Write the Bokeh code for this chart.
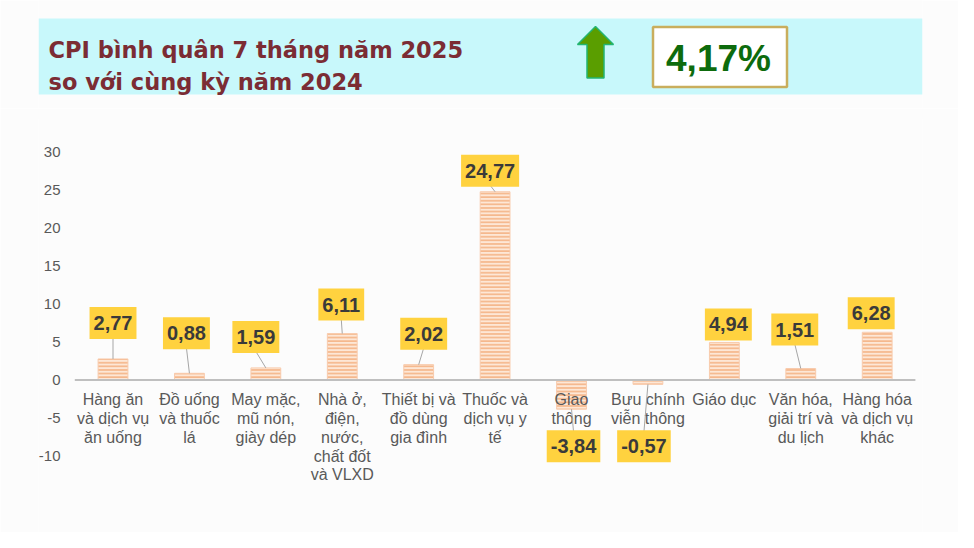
from bokeh.plotting import figure
from bokeh.layouts import column
from bokeh.models import Range1d, FixedTicker, ColumnDataSource
from bokeh.core.properties import value
from bokeh.embed import file_html
from bokeh.resources import INLINE

# ---------------- data ----------------
TITLE_LINES = ["CPI bình quân 7 tháng năm 2025", "so với cùng kỳ năm 2024"]
HEADLINE_VALUE = 4.17
CATEGORIES = [
    "Hàng ăn\nvà dịch vụ\năn uống",
    "Đồ uống\nvà thuốc\nlá",
    "May mặc,\nmũ nón,\ngiày dép",
    "Nhà ở,\nđiện,\nnước,\nchất đốt\nvà VLXD",
    "Thiết bị và\nđồ dùng\ngia đình",
    "Thuốc và\ndịch vụ y\ntế",
    "Giao\nthông",
    "Bưu chính\nviễn thông",
    "Giáo dục",
    "Văn hóa,\ngiải trí và\ndu lịch",
    "Hàng hóa\nvà dịch vụ\nkhác",
]
VALUES = [2.77, 0.88, 1.59, 6.11, 2.02, 24.77, -3.84, -0.57, 4.94, 1.51, 6.28]
Y_TICKS = [-10, -5, 0, 5, 10, 15, 20, 25, 30]

# label placement (screen px offsets of label centre from bar end)
LABEL_DX = [0, -3, -10, -1, 5, -5, 2, -4, 4, -6, -6]
LABEL_DY = [-36, -40, -31, -29, -31, -21, 37, 62, -18, -39, -19]

# ---------------- style / layout (pixels) ----------------
BG = "#FCFCFC"
FONT = "Liberation Sans"
W = 958
HEADER_H = 108
CHART_H = 424
FRAME_L, FRAME_R = 38, 922          # shared frame (header box edges)
CAT_L, CAT_R = 74.3, 914.9          # extent of the category bands
ZERO_PX, TOP_PX, PX_PER_UNIT = 379.5, 118, 7.6

# ---------------- header ----------------
h = figure(width=W, height=HEADER_H, output_backend="svg", toolbar_location=None,
           x_range=Range1d(FRAME_L, FRAME_R), y_range=Range1d(HEADER_H, 0),
           x_axis_location=None, y_axis_location=None,
           min_border_left=FRAME_L, min_border_right=W - FRAME_R,
           min_border_top=0, min_border_bottom=0,
           background_fill_color=BG, border_fill_color=BG, outline_line_color=None)
h.grid.visible = False
h.quad(left=[FRAME_L], right=[FRAME_R], top=[18], bottom=[94],
       fill_color="#C8F8FB", line_color=None)
h.text(x=[48, 48], y=[49, 81], text=TITLE_LINES, text_font=value("DejaVu Sans"),
       text_font_style="bold", text_font_size="22.5px", text_color="#7B2C34",
       text_baseline="alphabetic", text_align="left")
# up arrow
h.patch(x=[595, 613, 603.5, 603.5, 586.5, 586.5, 577],
        y=[26, 44, 44, 77.5, 77.5, 44, 44],
        fill_color="#5A9E00", line_color="#22B573", line_width=1.5)
h.quad(left=[652.5], right=[786.5], top=[26.5], bottom=[86.5], fill_color="white",
       line_color="#C9AE5D", line_width=2.5)
h.text(x=[718], y=[58], text=[f"{HEADLINE_VALUE:.2f}".replace(".", ",") + "%"],
       text_font=value(FONT), text_font_style="bold", text_font_size="37px",
       text_color="#0D6B0D", text_baseline="middle", text_align="center")

# ---------------- chart ----------------
n = len(CATEGORIES)
idx = list(range(n))
pxc = (CAT_R - CAT_L) / n
x0 = -0.5 - (CAT_L - FRAME_L) / pxc
x1 = n - 0.5 + (FRAME_R - CAT_R) / pxc
frame_top_img = TOP_PX
frame_bot_img = HEADER_H + CHART_H
y1 = (ZERO_PX - frame_top_img) / PX_PER_UNIT
y0 = -(frame_bot_img - ZERO_PX) / PX_PER_UNIT

p = figure(width=W, height=CHART_H, output_backend="svg", toolbar_location=None,
           x_range=Range1d(x0, x1), y_range=Range1d(y0, y1),
           x_axis_location=None,
           min_border_left=FRAME_L, min_border_right=W - FRAME_R,
           min_border_top=TOP_PX - HEADER_H, min_border_bottom=0,
           background_fill_color=BG, border_fill_color=BG, outline_line_color=None)
p.grid.visible = False
yax = p.yaxis[0]
yax.ticker = FixedTicker(ticks=Y_TICKS)
yax.major_label_overrides = {t: str(t) for t in Y_TICKS}
yax.axis_line_color = None
yax.major_tick_line_color = None
yax.minor_tick_line_color = None
yax.major_tick_out = 0
yax.major_tick_in = 0
yax.major_label_text_font = FONT
yax.major_label_text_font_size = "15px"
yax.major_label_text_color = "#595959"
yax.major_label_standoff = -22

src = ColumnDataSource(dict(x=idx, top=VALUES))
p.vbar(x="x", top="top", bottom=0, width=0.39, source=src,
       fill_color="#FDE7D6", line_color="#F8CBAD", line_width=1,
       hatch_pattern="horizontal_line", hatch_color="#F5B88D",
       hatch_scale=3.6, hatch_weight=1.8)

# zero baseline across the category area
p.segment(x0=[-0.5], y0=[0], x1=[n - 0.5], y1=[0], line_color="#BFBFBF", line_width=2)

# category labels below zero line
p.text(x=idx, y=[0] * n, text=CATEGORIES, y_offset=11, text_align="center",
       text_baseline="top", text_font=value(FONT), text_font_size="16px",
       text_line_height=1.11, text_color="#595959")

# leader lines
half_box = 14.5
lx0, ly0, lx1, ly1 = [], [], [], []
for i, v in enumerate(VALUES):
    dx, dy = LABEL_DX[i], LABEL_DY[i]
    if abs(dy) - half_box > 5.5:
        edge = dy + half_box if v >= 0 else dy - half_box
        lx0.append(i)
        ly0.append(v)
        lx1.append(i + dx / pxc)
        ly1.append(v - edge / PX_PER_UNIT)
p.segment(x0=lx0, y0=ly0, x1=lx1, y1=ly1, line_color="#A6A6A6", line_width=1)

# data labels
labels = [f"{v:.2f}".replace(".", ",") for v in VALUES]
p.text(x=idx, y=VALUES, text=labels, x_offset=LABEL_DX, y_offset=LABEL_DY,
       text_align="center", text_baseline="middle", text_font=value(FONT),
       text_font_style="bold", text_font_size="20px", text_color="#3A3A3A",
       background_fill_color="#FFD23F", padding=(4, 9))

layout = column(h, p, spacing=0)
open("out.html", "w").write(file_html(layout, INLINE))
